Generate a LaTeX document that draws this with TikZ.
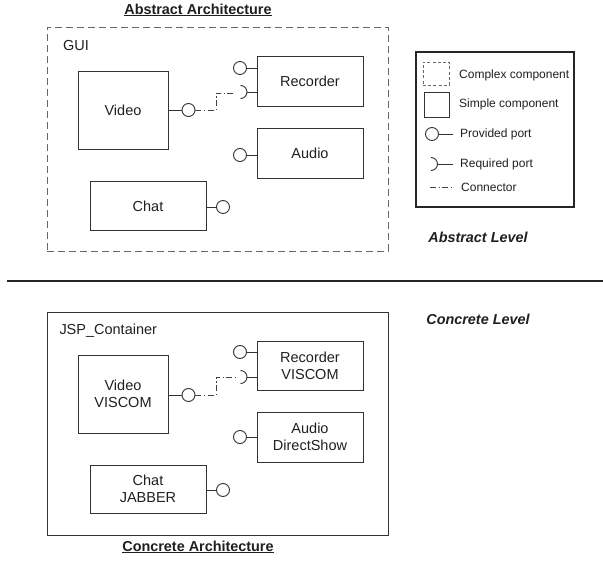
\documentclass[tikz,border=0pt]{standalone}
\usepackage{fontspec}
\setmainfont{Liberation Sans}
\begin{document}
\begin{tikzpicture}[x=1pt,y=-1pt,
  every node/.style={font=\fontsize{14.5}{17}\selectfont, text=black!88},
  ln/.style={draw=black!80, line width=0.9pt},
  comp/.style={ln, rectangle, inner sep=0pt, align=center},
  outerdash/.style={draw=black!60, line width=0.9pt, dash pattern=on 7pt off 4pt},
  pport/.style={ln, circle, minimum size=13pt, inner sep=0pt},
  conn/.style={draw=black!75, line width=0.9pt, dash pattern=on 6pt off 2.5pt on 1.2pt off 2.5pt},
  lbl/.style={anchor=west, inner sep=0pt, font=\fontsize{12}{14}\selectfont},
  tag/.style={anchor=west, inner sep=0pt},
  lvl/.style={font=\fontsize{14.4}{16}\selectfont\bfseries\itshape},
  ttl/.style={font=\fontsize{14.4}{16}\selectfont\bfseries}
]
\useasboundingbox (0,0) rectangle (603,565);

% ---------- abstract architecture ----------
\node[ttl] (atitle) at (198,10) {\underline{Abstract Architecture}};
\node[outerdash, rectangle, minimum width=341pt, minimum height=224pt] (gui) at (217.5,139) {};
\node[tag] (guilbl) at (63,46) {GUI};

\node[comp, minimum width=90pt, minimum height=78pt] (video) at (123,110) {Video};
\node[comp, minimum width=106pt, minimum height=50pt] (rec) at (310,81) {Recorder};
\node[comp, minimum width=106pt, minimum height=50pt] (audio) at (310,153) {Audio};
\node[comp, minimum width=116pt, minimum height=49pt] (chat) at (148,206) {Chat};

\node[pport] (vp) at (188.5,110) {};
\node[pport] (rp) at (240,68) {};
\node[pport] (ap) at (240,155) {};
\node[pport] (cp) at (223,207) {};
\draw[ln] (video.east |- vp) -- (vp.west);
\draw[ln] (rp.east) -- (rp -| rec.west);
\draw[ln] (ap.east) -- (ap -| audio.west);
\draw[ln] (chat.east |- cp) -- (cp.west);

% required port of Recorder
\coordinate (rqa) at (240.5,92);
\draw[ln] ([yshift=6.5pt]rqa) arc[start angle=90, end angle=-90, radius=6.5pt];
\draw[ln] ([xshift=6.5pt]rqa) -- (rqa -| rec.west);
\coordinate (ca1) at (216,110);
\coordinate (ca2) at (216,93);
\draw[conn] (vp.east) -- (ca1) -- (ca2) -- ([xshift=-5pt]rqa |- ca2);

% ---------- legend ----------
\node[draw=black!85, line width=1.7pt, rectangle, minimum width=158pt, minimum height=155pt] (legend) at (495,129.5) {};
\node[outerdash, dash pattern=on 3pt off 2.2pt, rectangle, minimum width=26pt, minimum height=23pt] (lgcx) at (436,73.5) {};
\node[lbl] (lgcxt) at (459,75) {Complex component};
\node[comp, minimum width=25pt, minimum height=25pt] (lgsm) at (436.5,104.5) {};
\node[lbl] (lgsmt) at (459,104) {Simple component};
\node[pport] (lgpp) at (432,134) {};
\coordinate (lgppe) at (453,134);
\draw[ln] (lgpp.east) -- (lgppe);
\node[lbl] (lgppt) at (460,134) {Provided port};
\coordinate (lgrq) at (431,164);
\draw[ln] ([yshift=6.5pt]lgrq) arc[start angle=90, end angle=-90, radius=6.5pt];
\coordinate (lgrqe) at (453,164);
\draw[ln] ([xshift=6.5pt]lgrq) -- (lgrqe);
\node[lbl] (lgrqt) at (460,164) {Required port};
\coordinate (lgc1) at (430,187);
\coordinate (lgc2) at (453,187);
\draw[conn] (lgc1) -- (lgc2);
\node[lbl] (lgct) at (461,187) {Connector};

% ---------- level labels and divider ----------
\node[lvl] (alvl) at (478,237) {Abstract Level};
\coordinate (div1) at (7,281);
\coordinate (div2) at (603,281);
\draw[draw=black!85, line width=1.3pt] (div1) -- (div2);
\node[lvl] (clvl) at (478,319) {Concrete Level};

% ---------- concrete architecture ----------
\node[ln, rectangle, minimum width=341pt, minimum height=223pt] (jsp) at (217.5,423.5) {};
\node[tag] (jsplbl) at (59.3,331) {JSP\_Container};

\node[comp, minimum width=90pt, minimum height=78pt] (cvideo) at (123,394) {Video\\VISCOM};
\node[comp, minimum width=106pt, minimum height=49pt] (crec) at (310,365.5) {Recorder\\VISCOM};
\node[comp, minimum width=106pt, minimum height=50pt] (caudio) at (310,437) {Audio\\DirectShow};
\node[comp, minimum width=116pt, minimum height=48pt] (cchat) at (148,489) {Chat\\JABBER};

\node[pport] (cvp) at (188.5,395) {};
\node[pport] (crp) at (240,352) {};
\node[pport] (cap) at (240,437) {};
\node[pport] (ccp) at (223,490) {};
\draw[ln] (cvideo.east |- cvp) -- (cvp.west);
\draw[ln] (crp.east) -- (crp -| crec.west);
\draw[ln] (cap.east) -- (cap -| caudio.west);
\draw[ln] (cchat.east |- ccp) -- (ccp.west);

\coordinate (crqa) at (240.5,377);
\draw[ln] ([yshift=6.5pt]crqa) arc[start angle=90, end angle=-90, radius=6.5pt];
\draw[ln] ([xshift=6.5pt]crqa) -- (crqa -| crec.west);
\coordinate (cc1) at (216,395);
\coordinate (cc2) at (216,377);
\draw[conn] (cvp.east) -- (cc1) -- (cc2) -- ([xshift=-5pt]crqa |- cc2);

\node[ttl] (ctitle) at (198,547) {\underline{Concrete Architecture}};
\end{tikzpicture}
\end{document}
